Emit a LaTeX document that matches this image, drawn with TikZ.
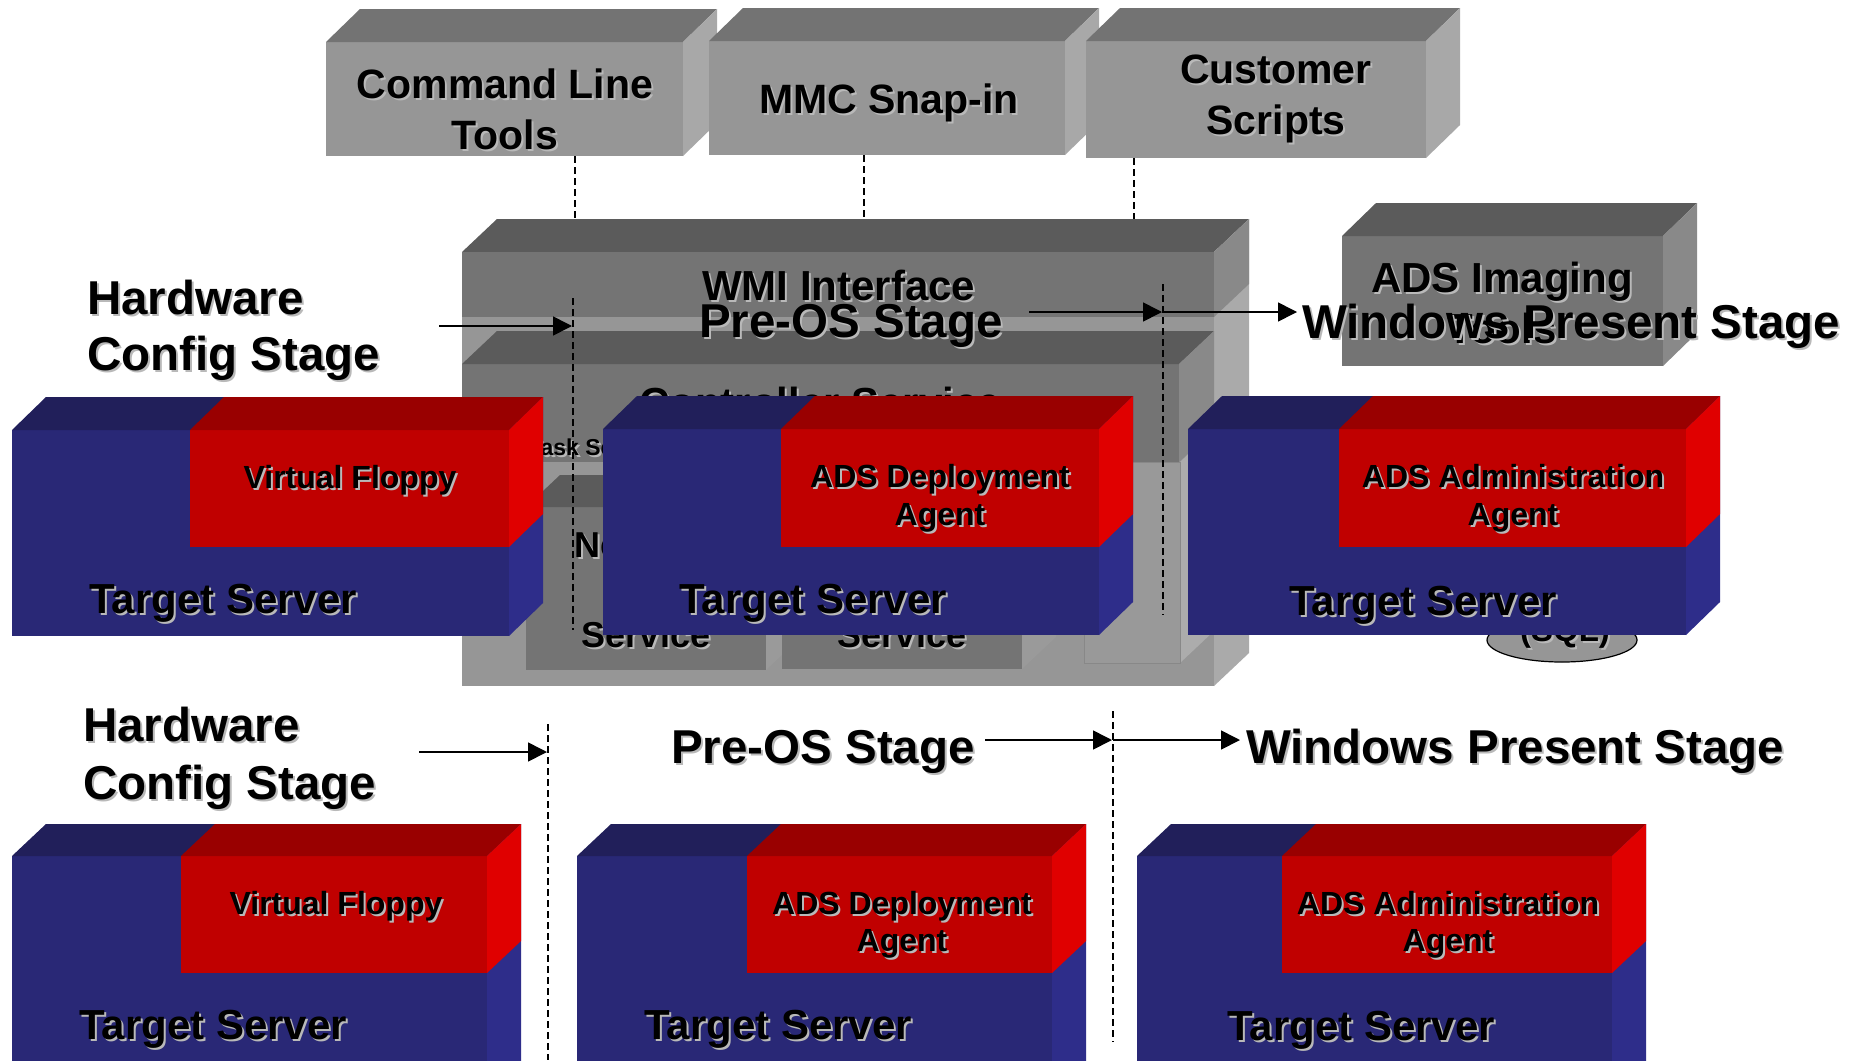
\documentclass[tikz,border=0pt]{standalone}
\usepackage{fontspec}
\setmainfont{Liberation Sans}
\usetikzlibrary{arrows.meta}
\definecolor{blueF}{RGB}{41,40,118}
\definecolor{blueT}{RGB}{33,31,90}
\definecolor{blueS}{RGB}{46,45,138}
\definecolor{redF}{RGB}{192,0,0}
\definecolor{redT}{RGB}{153,0,0}
\definecolor{redS}{RGB}{224,0,0}
\definecolor{gF}{RGB}{150,150,150}
\definecolor{gT}{RGB}{115,115,115}
\definecolor{gS}{RGB}{168,168,168}
\definecolor{oS}{RGB}{170,170,170}
\definecolor{dF}{RGB}{116,116,116}
\definecolor{dT}{RGB}{91,91,91}
\definecolor{dS}{RGB}{137,137,137}
\definecolor{inS}{RGB}{154,154,154}
\definecolor{colF}{RGB}{153,153,153}
\definecolor{colB}{RGB}{136,136,136}
\definecolor{colS}{RGB}{172,172,172}
\definecolor{shc}{RGB}{185,185,185}
% 3D box: x1 y1 x2 y2 dx dy front top side
\newcommand\cube[9]{%
  \fill[#7] (#1,#2) rectangle (#3,#4);
  \fill[#8] (#1,#2) -- ({#1+#5},{#2-#6}) -- ({#3+#5},{#2-#6}) -- (#3,#2) -- cycle;
  \fill[#9] (#3,#2) -- ({#3+#5},{#2-#6}) -- ({#3+#5},{#4-#6}) -- (#3,#4) -- cycle;}
% target server: x1 y1 x2 y2 xred yred dx dy
\newcommand\tserver[8]{%
  \cube{#1}{#2}{#3}{#4}{#7}{#8}{blueF}{blueT}{blueS}
  \fill[redF] (#5,#2) rectangle (#3,#6);
  \fill[redT] (#5,#2) -- ({#5+#7},{#2-#8}) -- ({#3+#7},{#2-#8}) -- (#3,#2) -- cycle;
  \fill[redS] (#3,#2) -- ({#3+#7},{#2-#8}) -- ({#3+#7},{#6-#8}) -- (#3,#6) -- cycle;}
\newcommand\sh[1]{\rlap{\kern2pt\raisebox{-2pt}{\textcolor{shc}{#1}}}#1}
\newcommand\fz[1]{\fontsize{#1}{#1}\selectfont\bfseries}
\tikzset{
  lbl/.style={inner sep=0pt, anchor=base west},
  clbl/.style={inner sep=0pt, anchor=base},
  conn/.style={line width=1.4pt, dash pattern=on 7pt off 4pt},
  flow/.style={line width=1.6pt, -{Triangle[length=19pt,width=19pt]}},
}
\begin{document}
\begin{tikzpicture}[x=1pt,y=-1pt]
\useasboundingbox (0,0) rectangle (1867,1060);
\clip (0,0) rectangle (1867,1060);
\fill[white] (0,0) rectangle (1867,1060);

% ---------- top tool boxes ----------
\cube{326}{42}{683}{156}{34}{33}{gF}{gT}{gS}
\cube{709}{41}{1065}{155}{34}{33}{gF}{gT}{gS}
\cube{1086}{41}{1426}{158}{34}{33}{gF}{gT}{gS}
\node[clbl] (tcl1) at (505,98) {\fz{41}\sh{Command Line}};
\node[clbl] (tcl2) at (505,149) {\fz{41}\sh{Tools}};
\node[clbl] (tmmc) at (889,113) {\fz{41}\sh{MMC Snap-in}};
\node[clbl] (tcs1) at (1276,83) {\fz{41}\sh{Customer}};
\node[clbl] (tcs2) at (1276,134) {\fz{41}\sh{Scripts}};

\coordinate (c1t) at (575,156); \coordinate (c1b) at (575,219);
\coordinate (c2t) at (864,155); \coordinate (c2b) at (864,219);
\coordinate (c3t) at (1134,158); \coordinate (c3b) at (1134,219);
\draw[conn] (c1t) -- (c1b);
\draw[conn] (c2t) -- (c2b);
\draw[conn] (c3t) -- (c3b);

% ---------- container ----------
\cube{462}{252}{1214}{686}{35}{33}{gF}{dT}{oS}
\fill[dF] (462,252) rectangle (1214,317);
\fill[dS] (1214,252) -- (1249,219) -- (1249,284) -- (1214,317) -- cycle;
\cube{462}{364}{1179}{462}{35}{33}{dF}{dT}{dS}
\fill[colS] (1180,462) -- (1215,429) -- (1215,630) -- (1180,663) -- cycle;
\filldraw[fill=colF, draw=colB, line width=1pt] (1084,462) rectangle (1180,663);
\cube{526}{507}{766}{670}{34}{32}{dF}{dT}{inS}
\cube{782}{507}{1022}{669}{34}{32}{dF}{dT}{inS}
\node[lbl] (wmi) at (702,300) {\fz{42}\sh{WMI Interface}};
\node[clbl] (ctrl) at (820,417) {\fz{42}\sh{Controller Service}};
\node[lbl] (task) at (528,455) {\fz{23}\sh{Task Sequencer}};
\node[clbl] (nb1) at (646,557) {\fz{36}\sh{Network}};
\node[clbl] (nb2) at (646,602) {\fz{36}\sh{Boot}};
\node[clbl] (nb3) at (646,647) {\fz{36}\sh{Service}};
\node[clbl] (id1) at (902,557) {\fz{36}\sh{Image}};
\node[clbl] (id2) at (902,602) {\fz{36}\sh{Distribution}};
\node[clbl] (id3) at (902,647) {\fz{36}\sh{Service}};

% ---------- ADS imaging tools ----------
\cube{1342}{236}{1663}{366}{34}{33}{dF}{dT}{dS}
\node[clbl] (img1) at (1502,292) {\fz{42}\sh{ADS Imaging}};
\node[clbl] (img2) at (1502,343) {\fz{42}\sh{Tools}};

% ---------- database ----------
\draw[fill=gF, line width=1.2pt] (1562,640) ellipse [x radius=75, y radius=22];
\node[clbl] (sql) at (1565,641) {\fz{33}\sh{(SQL)}};

% ---------- upper stage row ----------
\node[lbl] (hw1) at (87,314) {\fz{47.5}\sh{Hardware}};
\node[lbl] (cf1) at (87,370) {\fz{47.5}\sh{Config Stage}};
\node[lbl] (pre1) at (699,337) {\fz{47.5}\sh{Pre-OS Stage}};
\node[lbl] (win1) at (1302,338) {\fz{47.5}\sh{Windows Present Stage}};
\coordinate (a1s) at (439,326); \coordinate (a1e) at (572,326);
\coordinate (a2s) at (1029,312); \coordinate (a2e) at (1162,312);
\coordinate (a3s) at (1163,312); \coordinate (a3e) at (1297,312);
\coordinate (d1t) at (573,298); \coordinate (d1b) at (573,630);
\coordinate (d2t) at (1163,284); \coordinate (d2b) at (1163,615);
\draw[conn] (d1t) -- (d1b);
\draw[conn] (d2t) -- (d2b);
\draw[flow] (a1s) -- (a1e);
\draw[flow] (a2s) -- (a2e);
\draw[flow] (a3s) -- (a3e);

\tserver{12}{430}{509}{636}{190}{547}{34}{33}
\tserver{603}{429}{1099}{635}{781}{547}{34}{33}
\tserver{1188}{429}{1686}{635}{1339}{547}{34}{33}
\node[clbl] (vf1) at (350,488) {\fz{32}\sh{Virtual Floppy}};
\node[lbl] (ts1) at (89,613) {\fz{42}\sh{Target Server}};
\node[clbl] (dp1a) at (940,487) {\fz{32}\sh{ADS Deployment}};
\node[clbl] (dp1b) at (940,525) {\fz{32}\sh{Agent}};
\node[lbl] (ts2) at (679,613) {\fz{42}\sh{Target Server}};
\node[clbl] (ad1a) at (1513,487) {\fz{32}\sh{ADS Administration}};
\node[clbl] (ad1b) at (1513,525) {\fz{32}\sh{Agent}};
\node[lbl] (ts3) at (1289,615) {\fz{42}\sh{Target Server}};

% ---------- lower stage row ----------
\node[lbl] (hw2) at (83,741) {\fz{47.5}\sh{Hardware}};
\node[lbl] (cf2) at (83,799) {\fz{47.5}\sh{Config Stage}};
\node[lbl] (pre2) at (671,763) {\fz{47.5}\sh{Pre-OS Stage}};
\node[lbl] (win2) at (1246,763) {\fz{47.5}\sh{Windows Present Stage}};
\coordinate (b1s) at (419,752); \coordinate (b1e) at (547,752);
\coordinate (b2s) at (985,740); \coordinate (b2e) at (1112,740);
\coordinate (b3s) at (1113,740); \coordinate (b3e) at (1240,740);
\coordinate (e1t) at (548,724); \coordinate (e1b) at (548,1060);
\coordinate (e2t) at (1113,711); \coordinate (e2b) at (1113,1042);
\draw[conn] (e1t) -- (e1b);
\draw[conn] (e2t) -- (e2b);
\draw[flow] (b1s) -- (b1e);
\draw[flow] (b2s) -- (b2e);
\draw[flow] (b3s) -- (b3e);

\tserver{12}{856}{487}{1100}{181}{973}{34}{32}
\tserver{577}{856}{1052}{1100}{747}{973}{34}{32}
\tserver{1137}{856}{1612}{1100}{1282}{973}{34}{32}
\node[clbl] (vf2) at (336,914) {\fz{32}\sh{Virtual Floppy}};
\node[lbl] (ts4) at (79,1039) {\fz{42}\sh{Target Server}};
\node[clbl] (dp2a) at (902,914) {\fz{32}\sh{ADS Deployment}};
\node[clbl] (dp2b) at (902,951) {\fz{32}\sh{Agent}};
\node[lbl] (ts5) at (644,1039) {\fz{42}\sh{Target Server}};
\node[clbl] (ad2a) at (1448,914) {\fz{32}\sh{ADS Administration}};
\node[clbl] (ad2b) at (1448,951) {\fz{32}\sh{Agent}};
\node[lbl] (ts6) at (1227,1040) {\fz{42}\sh{Target Server}};
\end{tikzpicture}
\end{document}
